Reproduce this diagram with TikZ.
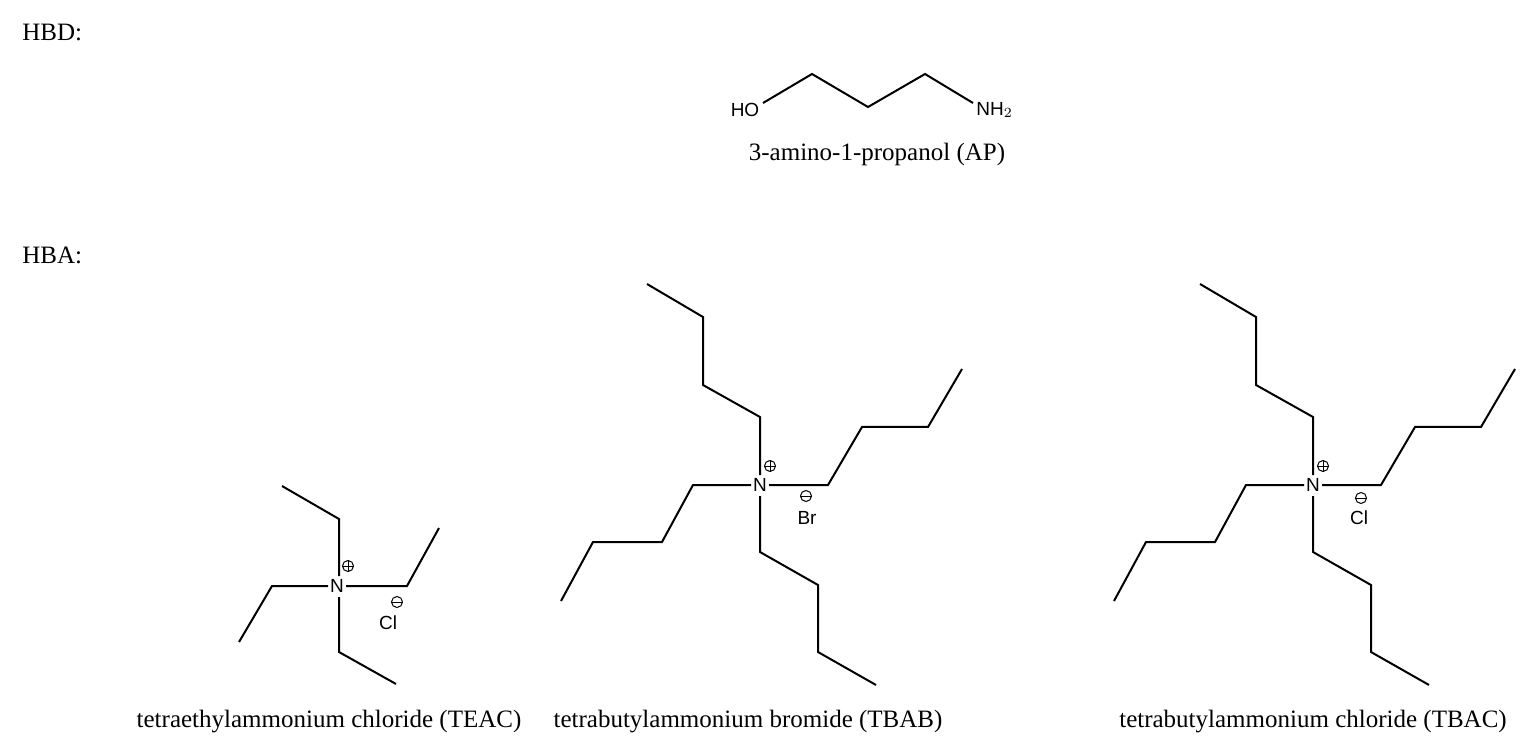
\documentclass[tikz,border=0pt]{standalone}
\usepackage{fontspec}
\setmainfont{Liberation Serif}
\newfontfamily\chemfont{Liberation Sans}
\begin{document}
\begin{tikzpicture}[x=0.5pt,y=-0.5pt,
  bond/.style={line width=1pt,line join=miter},
  atom/.style={font=\chemfont\fontsize{9.5}{10}\selectfont,inner sep=0pt},
  chg/.style={circle,draw,line width=0.5pt,inner sep=0pt,minimum size=5.5pt},
  lbl/.style={font=\fontsize{12.5}{15}\selectfont,inner sep=0pt}]
\useasboundingbox (0,0) rectangle (1536,753);
\node[lbl,anchor=west] (hbd) at (22,32) {HBD:};
\node[lbl,anchor=west] (hba) at (22,255) {HBA:};
% AP
\node[atom] (ho) at (745,110) {HO};
\node[atom,anchor=west] (nh2) at (976,110) {NH$_2$};
\draw[bond] (763,103)--(812,74)--(868,107)--(925,74)--(973,103);
\node[lbl] (apl) at (877,154) {3-amino-1-propanol (AP)};
% TEAC
\node[atom] (n1) at (337,586) {N};
\draw[bond] (339,576)--(339,519)--(282,486);
\draw[bond] (346,586)--(407,586)--(439,528);
\draw[bond] (328,586)--(272,586)--(239,642);
\draw[bond] (339,597)--(339,652)--(396,684);
\node[chg] (p1) at (348,566) {}; \draw[line width=0.5pt] (p1.west)--(p1.east) (p1.north)--(p1.south);
\node[chg] (m1) at (397,602) {}; \draw[line width=0.5pt] (m1.west)--(m1.east);
\node[atom] (cl1) at (388,623) {Cl};
\node[lbl] (teac) at (329,722) {tetraethylammonium chloride (TEAC)};
% TBAB
\node[atom] (n2) at (760,485) {N};
\draw[bond] (760,475)--(760,417)--(703,385)--(703,317)--(647,284);
\draw[bond] (769,485)--(828,485)--(862,427)--(928,427)--(962,369);
\draw[bond] (751,485)--(693,485)--(662,542)--(593,542)--(561,601);
\draw[bond] (760,496)--(760,552)--(818,585)--(818,652)--(876,685);
\node[chg] (p2) at (770,466) {}; \draw[line width=0.5pt] (p2.west)--(p2.east) (p2.north)--(p2.south);
\node[chg] (m2) at (806,496) {}; \draw[line width=0.5pt] (m2.west)--(m2.east);
\node[atom] (br) at (807,518) {Br};
\node[lbl] (tbab) at (748,722) {tetrabutylammonium bromide (TBAB)};
% TBAC
\begin{scope}[xshift=276.5pt]
\node[atom] (n3) at (760,485) {N};
\draw[bond] (760,475)--(760,417)--(703,385)--(703,317)--(647,284);
\draw[bond] (769,485)--(828,485)--(862,427)--(928,427)--(962,369);
\draw[bond] (751,485)--(693,485)--(662,542)--(593,542)--(561,601);
\draw[bond] (760,496)--(760,552)--(818,585)--(818,652)--(876,685);
\node[chg] (p3) at (770,466) {}; \draw[line width=0.5pt] (p3.west)--(p3.east) (p3.north)--(p3.south);
\node[chg] (m3) at (808,498) {}; \draw[line width=0.5pt] (m3.west)--(m3.east);
\node[atom] (cl3) at (806,518) {Cl};
\end{scope}
\node[lbl] (tbac) at (1313,722) {tetrabutylammonium chloride (TBAC)};
\end{tikzpicture}
\end{document}
